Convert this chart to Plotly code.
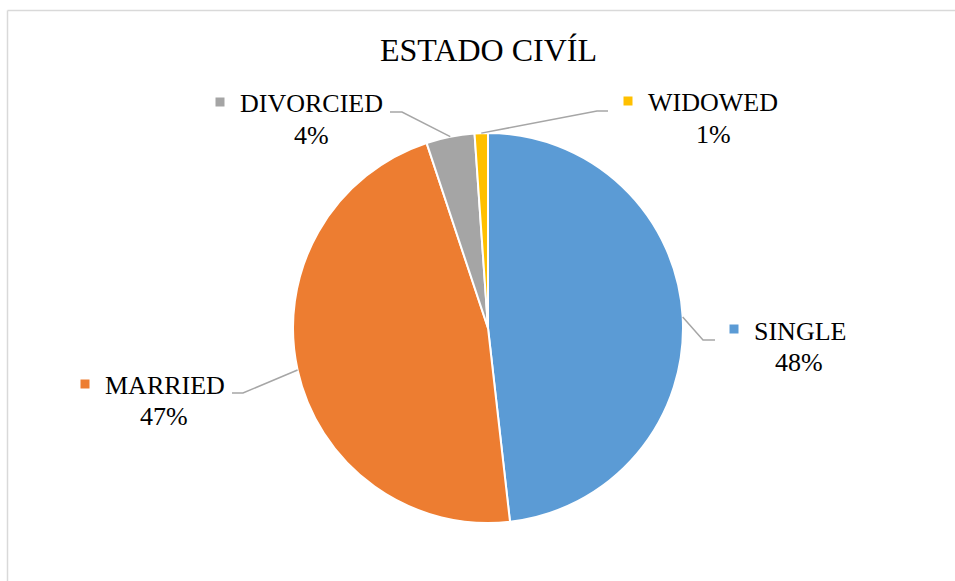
import math
import plotly.graph_objects as go

# data
categories = ["SINGLE", "MARRIED", "DIVORCIED", "WIDOWED"]
shares = [48.2, 46.7, 4.0, 1.1]
colors = ["#5B9BD5", "#ED7D31", "#A5A5A5", "#FFC000"]

W, H = 955, 581
CX, CY, R = 488, 328, 195          # pie centre / radius in px
FONT = "Times New Roman, Liberation Serif, serif"

# label layout (px): name centre, percent centre, marker centre, leader elbow, leader end
label_pos = {
    "SINGLE":    dict(name=(800, 331), pct=(799, 362), mark=(734, 329), elbow=(703, 340), end=(715, 340)),
    "MARRIED":   dict(name=(165, 385), pct=(164, 416), mark=(85, 384), elbow=(243, 393), end=(232, 393)),
    "DIVORCIED": dict(name=(311, 104), pct=(311, 135), mark=(220, 102), elbow=(402, 112), end=(390, 112)),
    "WIDOWED":   dict(name=(713, 103), pct=(713, 134), mark=(628, 101), elbow=(597, 111), end=(608, 111)),
}


def px(x, y):
    return x / W, 1 - y / H


fig = go.Figure(go.Pie(
    labels=categories,
    values=shares,
    sort=False,
    direction="clockwise",
    rotation=0,
    marker=dict(colors=colors, line=dict(color="white", width=2)),
    textinfo="none",
    hoverinfo="label+percent",
    domain=dict(x=[(CX - R) / W, (CX + R) / W], y=[1 - (CY + R) / H, 1 - (CY - R) / H]),
    showlegend=False,
))

annotations = []
shapes = []
total = sum(shares)
cum = 0
for cat, val, col in zip(categories, shares, colors):
    mid = (cum + val / 2) / total * 2 * math.pi
    cum += val
    rim = (CX + R * math.sin(mid), CY - R * math.cos(mid))
    lp = label_pos[cat]

    # leader line: slice rim -> elbow -> end
    pts = [px(*rim), px(*lp["elbow"]), px(*lp["end"])]
    path = "M {} {} L {} {} L {} {}".format(*[c for p in pts for c in p])
    shapes.append(dict(type="path", xref="paper", yref="paper", path=path,
                       line=dict(color="#A6A6A6", width=1.5)))

    # legend key square
    mx, my = lp["mark"]
    x0, y0 = px(mx - 4.5, my + 4.5)
    x1, y1 = px(mx + 4.5, my - 4.5)
    shapes.append(dict(type="rect", xref="paper", yref="paper", x0=x0, y0=y0, x1=x1, y1=y1,
                       fillcolor=col, line=dict(width=0)))

    for key, txt in (("name", cat), ("pct", f"{round(val / total * 100)}%")):
        ax, ay = px(*lp[key])
        annotations.append(dict(x=ax, y=ay, xref="paper", yref="paper", text=txt,
                                showarrow=False, xanchor="center", yanchor="middle",
                                font=dict(family=FONT, size=26, color="black")))

# title
tx, ty = px(488, 50)
annotations.append(dict(x=tx, y=ty, xref="paper", yref="paper", text="ESTADO CIVÍL",
                        showarrow=False, xanchor="center", yanchor="middle",
                        font=dict(family=FONT, size=32, color="black")))

# chart area border (top and left edges visible)
bx, by = px(7.5, 10.5)
shapes.append(dict(type="line", xref="paper", yref="paper", x0=bx, y0=by, x1=1, y1=by,
                   line=dict(color="#D9D9D9", width=1.5)))
shapes.append(dict(type="line", xref="paper", yref="paper", x0=bx, y0=by, x1=bx, y1=0,
                   line=dict(color="#D9D9D9", width=1.5)))

fig.update_layout(
    width=W, height=H,
    margin=dict(l=0, r=0, t=0, b=0),
    paper_bgcolor="white",
    plot_bgcolor="white",
    annotations=annotations,
    shapes=shapes,
)

# drop the default 8px page margin so the figure fills the window exactly
fig.write_html("out.html", config={"displayModeBar": False},
               post_script="document.body.style.margin='0';")
